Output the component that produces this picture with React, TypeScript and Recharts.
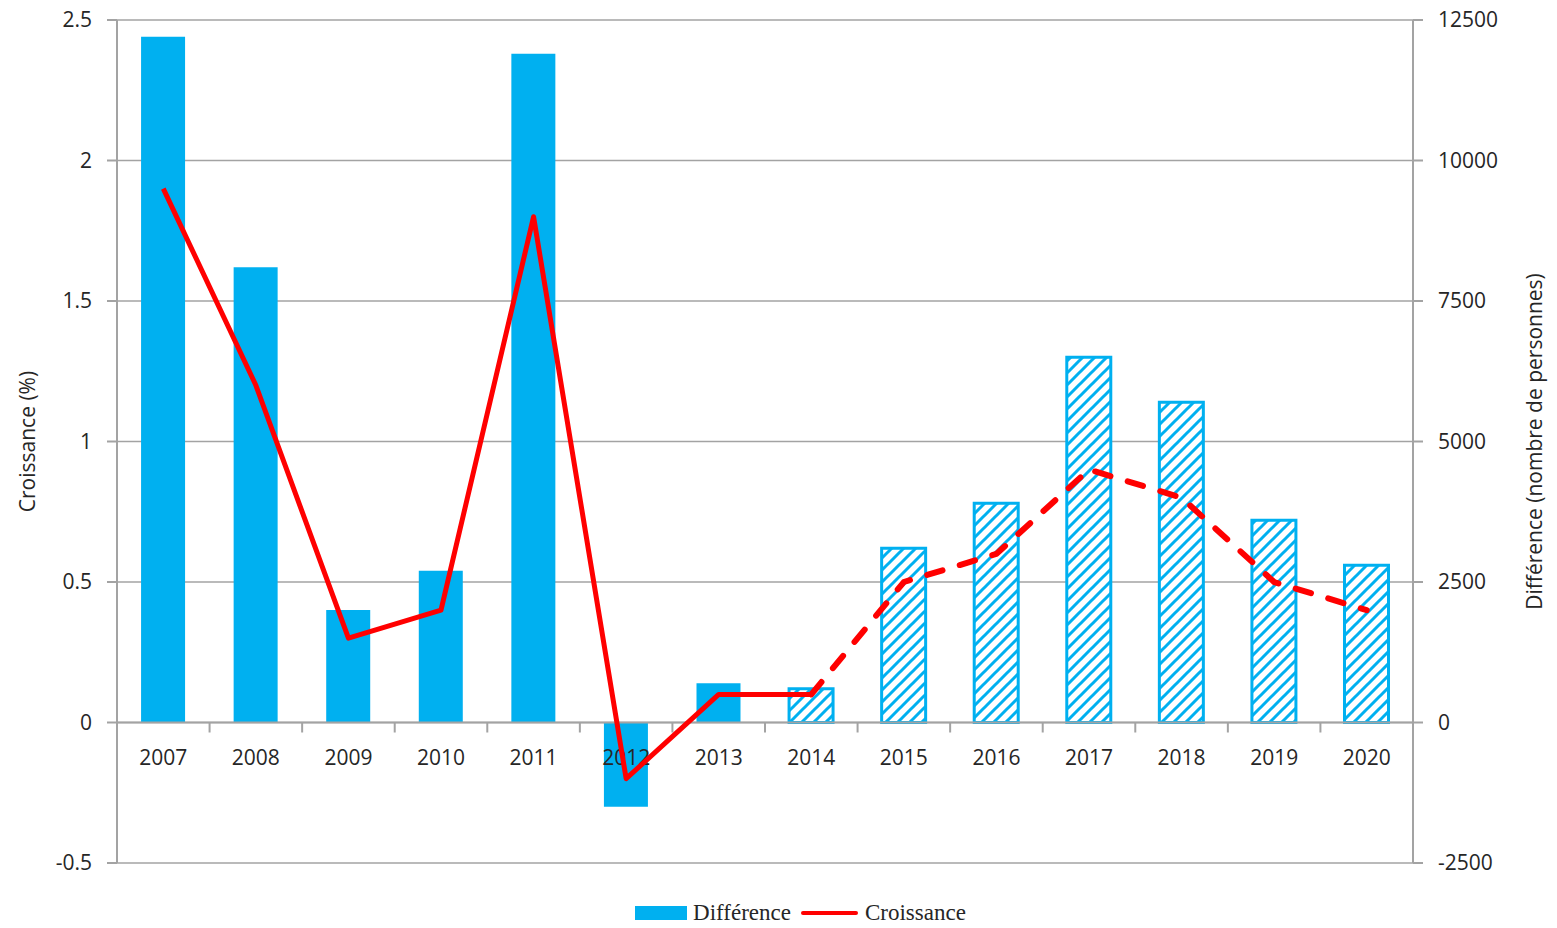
import React from 'react';
import { ComposedChart, Bar, Line, XAxis, YAxis, CartesianGrid, ReferenceLine, Cell } from 'recharts';

const years = ['2007', '2008', '2009', '2010', '2011', '2012', '2013', '2014', '2015', '2016', '2017', '2018', '2019', '2020'];
const difference = [12200, 8100, 2000, 2700, 11900, -1500, 700, 600, 3100, 3900, 6500, 5700, 3600, 2800];
const croissance = [1.9, 1.2, 0.3, 0.4, 1.8, -0.2, 0.1, 0.1, 0.5, 0.6, 0.9, 0.8, 0.5, 0.4];
const firstProjectedYear = '2014';
const leftTicks = [-0.5, 0, 0.5, 1, 1.5, 2, 2.5];
const rightTicks = [-2500, 0, 2500, 5000, 7500, 10000, 12500];
const leftTitle = 'Croissance (%)';
const rightTitle = 'Différence (nombre de personnes)';
const legendBar = 'Différence';
const legendLine = 'Croissance';

const BLUE = '#00B0F0';
const RED = '#FF0000';
const GRID = '#A3A3A3';
const TEXT = '#262626';
const FONT = '"Open Sans", "Noto Sans", sans-serif';

const projectedIndex = years.indexOf(firstProjectedYear);

const data = years.map((year, i) => ({
  year,
  difference: difference[i],
  croissanceSolid: i <= projectedIndex ? croissance[i] : null,
  croissanceDash: i >= projectedIndex ? croissance[i] : null,
}));

const AxisLineShape = (props: any) => {
  const { x1, x2, y1 } = props;
  const n = years.length;
  const step = (x2 - x1) / n;
  return (
    <g>
      <line x1={x1} x2={x2} y1={y1} y2={y1} stroke={GRID} strokeWidth={2} />
      {years.map((_, i) => (
        <line key={i} x1={x1 + (i + 1) * step} x2={x1 + (i + 1) * step} y1={y1} y2={y1 + 10} stroke={GRID} strokeWidth={2} />
      ))}
    </g>
  );
};

const AxisLabelShape = (props: any) => {
  const { x1, x2, y1 } = props;
  const n = years.length;
  const step = (x2 - x1) / n;
  return (
    <g>
      {years.map((y, i) => (
        <text key={y} x={x1 + (i + 0.5) * step} y={y1 + 35} dy="0.35em" textAnchor="middle" fontFamily={FONT} fontSize={21} fill={TEXT}>
          {y}
        </text>
      ))}
    </g>
  );
};

export default function App() {
  return (
    <div style={{ position: 'relative', width: 1557, height: 928, background: '#fff' }}>
      <style>{'body{margin:0}'}</style>
      <ComposedChart
        width={1557}
        height={928}
        data={data}
        margin={{ top: 20, right: 0, bottom: 65, left: 0 }}
        barCategoryGap="26%"
      >
        <defs>
          <pattern id="hatch" patternUnits="userSpaceOnUse" width="12" height="12">
            <rect x="0" y="0" width="12" height="12" fill="#fff" />
            <path d="M-3,3 L3,-3 M0,12 L12,0 M9,15 L15,9" stroke={BLUE} strokeWidth={3} />
          </pattern>
        </defs>
        <CartesianGrid vertical={false} horizontal stroke={GRID} strokeWidth={1.6} yAxisId="left" />
        <XAxis dataKey="year" hide />
        <YAxis
          yAxisId="left"
          width={117}
          domain={[-0.5, 2.5]}
          ticks={leftTicks}
          interval={0}
          allowDataOverflow
          axisLine={{ stroke: GRID, strokeWidth: 2 }}
          tickLine={{ stroke: GRID, strokeWidth: 2 }}
          tickSize={10}
          tickMargin={15}
          tick={{ fontFamily: FONT, fontSize: 21, fill: TEXT }}
          label={{ value: leftTitle, angle: -90, position: 'insideLeft', offset: 28, style: { textAnchor: 'middle', fontFamily: FONT, fontSize: 21, fill: TEXT } }}
        />
        <YAxis
          yAxisId="right"
          orientation="right"
          width={144}
          domain={[-2500, 12500]}
          ticks={rightTicks}
          interval={0}
          allowDataOverflow
          axisLine={{ stroke: GRID, strokeWidth: 2 }}
          tickLine={{ stroke: GRID, strokeWidth: 2 }}
          tickSize={10}
          tickMargin={15}
          tick={{ fontFamily: FONT, fontSize: 21, fill: TEXT }}
          label={{ value: rightTitle, angle: -90, position: 'insideRight', offset: 22, style: { textAnchor: 'middle', fontFamily: FONT, fontSize: 21, fill: TEXT } }}
        />
        <ReferenceLine yAxisId="left" y={0} shape={AxisLineShape} />
        <Bar yAxisId="right" dataKey="difference" isAnimationActive={false}>
          {data.map((d, i) =>
            i >= projectedIndex ? (
              <Cell key={d.year} fill="url(#hatch)" stroke={BLUE} strokeWidth={3} />
            ) : (
              <Cell key={d.year} fill={BLUE} stroke="none" />
            )
          )}
        </Bar>
        <ReferenceLine yAxisId="left" y={0} stroke="none" shape={AxisLabelShape} />
        <Line
          yAxisId="left"
          dataKey="croissanceSolid"
          stroke={RED}
          strokeWidth={5}
          dot={false}
          activeDot={false}
          connectNulls={false}
          strokeLinejoin="round"
          isAnimationActive={false}
        />
        <Line
          yAxisId="left"
          dataKey="croissanceDash"
          stroke={RED}
          strokeWidth={6}
          strokeDasharray="16 18"
          strokeLinecap="round"
          dot={false}
          activeDot={false}
          connectNulls={false}
          isAnimationActive={false}
        />
      </ComposedChart>
      <div
        style={{
          position: 'absolute',
          left: 0,
          width: 1557,
          top: 900,
          display: 'flex',
          justifyContent: 'center',
          alignItems: 'center',
          fontFamily: '"Liberation Serif", "Times New Roman", serif',
          fontSize: 23,
          color: TEXT,
          paddingLeft: 44,
          boxSizing: 'border-box',
        }}
      >
        <span style={{ display: 'inline-block', width: 52, height: 14, background: BLUE, marginRight: 6 }} />
        <span style={{ marginRight: 10 }}>{legendBar}</span>
        <span style={{ display: 'inline-block', width: 57, height: 4, background: RED, borderRadius: 2, marginRight: 7 }} />
        <span>{legendLine}</span>
      </div>
    </div>
  );
}
